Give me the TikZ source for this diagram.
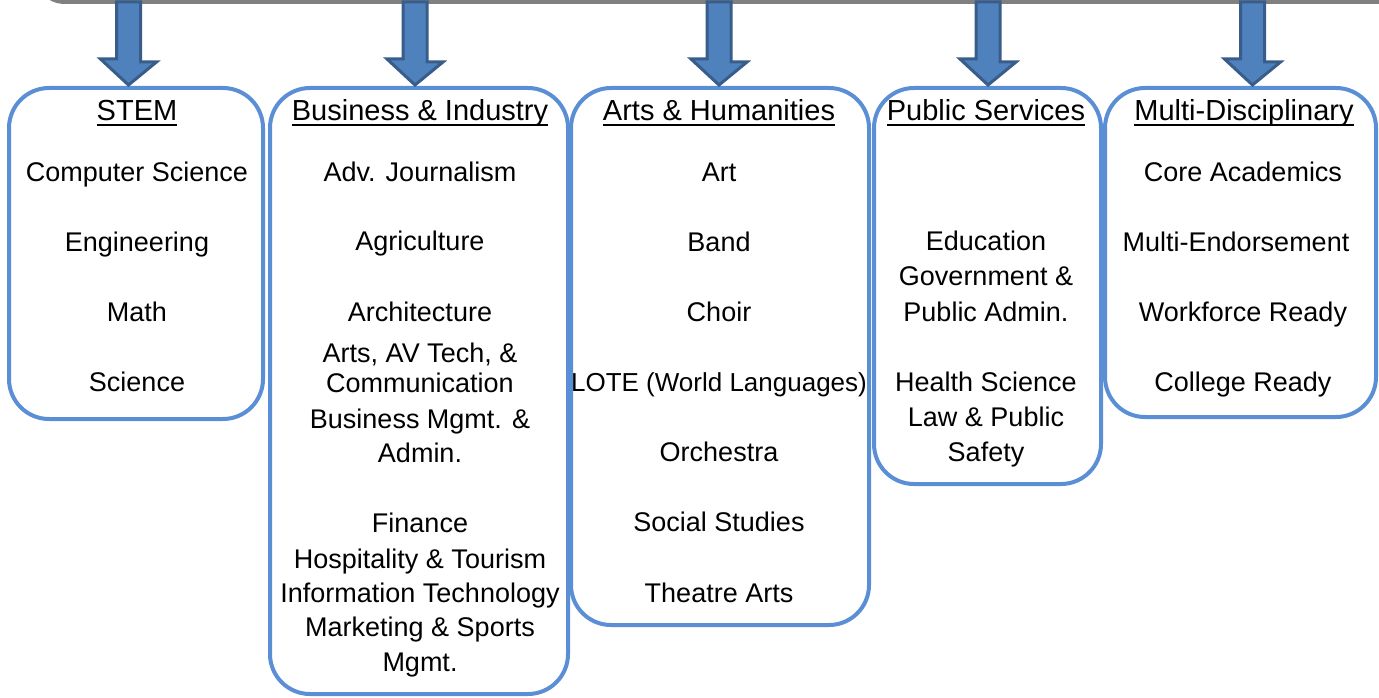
\documentclass[tikz,border=0pt]{standalone}
\usepackage{fontspec}
\setmainfont{Liberation Sans}
\definecolor{boxblue}{HTML}{5A8ED5}
\definecolor{arrfill}{HTML}{4F81BD}
\definecolor{arrline}{HTML}{385D8A}
\definecolor{bargray}{HTML}{808080}
\begin{document}
\begin{tikzpicture}[x=1pt,y=-1pt,
  barbox/.style={draw=bargray,line width=4pt,rounded corners=30pt,inner sep=0pt},
  box/.style={draw=boxblue,line width=4pt,rounded corners=40pt,inner sep=0pt},
  blockarrow/.style={fill=arrfill,draw=arrline,line width=3pt,line join=miter},
  txt/.style={font=\fontsize{27}{32}\selectfont,inner sep=0pt,anchor=base},
  ttl/.style={font=\fontsize{29}{34}\selectfont,inner sep=0pt,anchor=base},
  ul/.style={line width=2.4pt,black}]
\useasboundingbox (0,0) rectangle (1379,698);
% top bar (cut off)
\node[barbox,minimum width=1415pt,minimum height=202pt] (bar) at (742.5,-99) {};
% boxes
\node[box,minimum width=254pt,minimum height=331pt] (stem) at (136,253.5) {};
\node[box,minimum width=298pt,minimum height=606pt] (bus) at (419,391) {};
\node[box,minimum width=298pt,minimum height=537pt] (arts) at (720,356.5) {};
\node[box,minimum width=227pt,minimum height=396pt] (pub) at (987.5,286) {};
\node[box,minimum width=271pt,minimum height=329pt] (multi) at (1240.5,252.5) {};
% arrow starts
\coordinate (a1) at (128.5,2);
\coordinate (a2) at (415,2);
\coordinate (a3) at (719,2);
\coordinate (a4) at (988,2);
\coordinate (a5) at (1252.5,2);
\foreach \a/\b in {a1/stem,a2/bus,a3/arts,a4/pub,a5/multi}{
  \draw[blockarrow] (\a) ++(-12,0) -- ++(24,0) -- ++(0,60) -- ++(16,0)
     -- ([yshift=1pt]\a |- \b.north) -- ++(-28,-26) -- ++(16,0) -- cycle;
}
% STEM
\node[ttl] (t1) at (137,121) {STEM};
\node[txt] (t1a) at (137,182) {Computer Science};
\node[txt] (t1b) at (137,251) {Engineering};
\node[txt] (t1c) at (137,321) {Math};
\node[txt] (t1d) at (137,391) {Science};
% Business
\node[ttl] (t2) at (420,121) {Business \& Industry};
\node[txt] (t2a) at (420,182) {Adv. Journalism};
\node[txt] (t2b) at (420,250) {Agriculture};
\node[txt] (t2c) at (420,321) {Architecture};
\node[txt] (t2d) at (420,362) {Arts, AV Tech, \&};
\node[txt] (t2e) at (420,392) {Communication};
\node[txt] (t2f) at (420,428) {Business Mgmt. \&};
\node[txt] (t2g) at (420,462) {Admin.};
\node[txt] (t2h) at (420,532) {Finance};
\node[txt] (t2i) at (420,568) {Hospitality \& Tourism};
\node[txt] (t2j) at (420,602) {Information Technology};
\node[txt] (t2k) at (420,636) {Marketing \& Sports};
\node[txt] (t2l) at (420,671) {Mgmt.};
% Arts
\node[ttl] (t3) at (719,121) {Arts \& Humanities};
\node[txt] (t3a) at (719,182) {Art};
\node[txt] (t3b) at (719,251) {Band};
\node[txt] (t3c) at (719,321) {Choir};
\node[txt,font=\fontsize{26}{31}\selectfont] (t3d) at (719,391) {LOTE (World Languages)};
\node[txt] (t3e) at (719,461) {Orchestra};
\node[txt] (t3f) at (719,531) {Social Studies};
\node[txt] (t3g) at (719,602) {Theatre Arts};
% Public
\node[ttl] (t4) at (986,121) {Public Services};
\node[txt] (t4a) at (986,250) {Education};
\node[txt] (t4b) at (986,285) {Government \&};
\node[txt] (t4c) at (986,321) {Public Admin.};
\node[txt] (t4d) at (986,391) {Health Science};
\node[txt] (t4e) at (986,426) {Law \& Public};
\node[txt] (t4f) at (986,461) {Safety};
% Multi
\node[ttl] (t5) at (1244,121) {Multi-Disciplinary};
\node[txt] (t5a) at (1243,182) {Core Academics};
\node[txt] (t5b) at (1236,251) {Multi-Endorsement};
\node[txt] (t5c) at (1243,321) {Workforce Ready};
\node[txt] (t5d) at (1243,391) {College Ready};
% underlines
\foreach \t in {t1,t2,t3,t4,t5}{
  \draw[ul] ([yshift=-4pt]\t.base west) -- ([yshift=-4pt]\t.base east);
}
\end{tikzpicture}
\end{document}
